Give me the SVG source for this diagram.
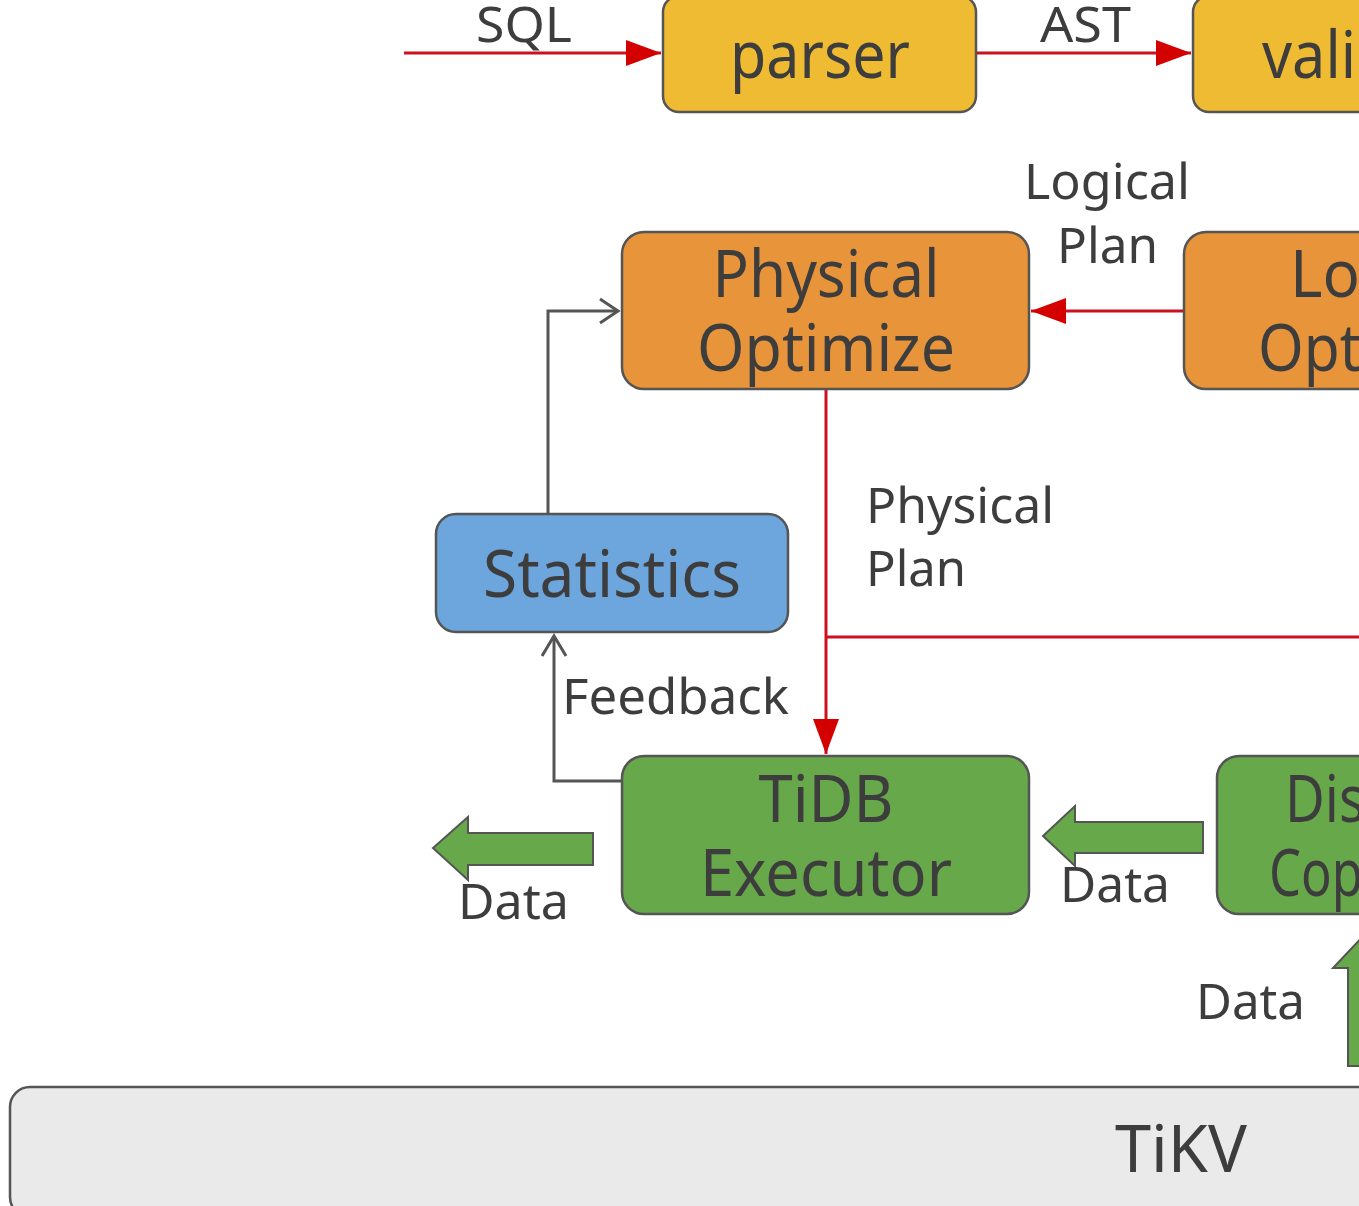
<svg xmlns="http://www.w3.org/2000/svg" width="1359" height="1206" viewBox="0 0 1359 1206">
<defs>
<style>
.node{stroke:#555;stroke-width:2.5}
.yellow{fill:#EFBB33}
.orange{fill:#E8943A}
.blue{fill:#6CA6DD}
.green{fill:#67A84A}
.grey{fill:#EAEAEA}
.nt{font-family:"Noto Sans","Open Sans",sans-serif;font-size:66px;fill:#3d3d3d;text-anchor:middle}
.lt{font-family:"Noto Sans","Open Sans",sans-serif;font-size:50px;fill:#3d3d3d}
.red{stroke:#CC1020;stroke-width:3;fill:none}
.gry{stroke:#555;stroke-width:3;fill:none}
.blk{fill:#67A84A;stroke:#555;stroke-width:2}
</style>
<marker id="ar" markerWidth="12" markerHeight="10" refX="12" refY="5" orient="auto" markerUnits="userSpaceOnUse" viewBox="0 0 12 10">
<path d="M0,0 L12,5 L0,10 z" fill="#D40000"/>
</marker>
<marker id="ag" viewBox="0 0 12 10" refX="11" refY="5" markerWidth="28" markerHeight="24" orient="auto" markerUnits="userSpaceOnUse">
<path d="M0,0 L11,5 L0,10" fill="none" stroke="#555" stroke-width="2"/>
</marker>
</defs>
<rect width="1359" height="1206" fill="#fff"/>
<g id="connectors">
<line x1="404" y1="53" x2="661" y2="53" class="red"/>
<path d="M626,40 L661,53 L626,66 z" fill="#D40000"/>
<line x1="976" y1="53" x2="1191" y2="53" class="red"/>
<path d="M1156,40 L1191,53 L1156,66 z" fill="#D40000"/>
<line x1="1184" y1="311" x2="1031" y2="311" class="red"/>
<path d="M1066,298 L1031,311 L1066,324 z" fill="#D40000"/>
<line x1="826" y1="389" x2="826" y2="754" class="red"/>
<path d="M813,719 L826,754 L839,719 z" fill="#D40000"/>
<line x1="826" y1="637" x2="1359" y2="637" class="red"/>
<path d="M548,514 L548,311 L618,311" class="gry"/>
<path d="M600,299 L618,311 L600,323" class="gry"/>
<path d="M622,781 L554,781 L554,636" class="gry"/>
<path d="M542,656 L554,636 L566,656" class="gry"/>
<path d="M593,833 L468,833 L468,817 L433,848 L468,880 L468,865 L593,865 z" class="blk"/>
<path d="M1203,822 L1075,822 L1075,806 L1043,836 L1075,866 L1075,853 L1203,853 z" class="blk"/>
<path d="M1348,1066 L1348,968 L1333,968 L1366,933 L1399,968 L1384,968 L1384,1066 z" class="blk"/>
<text class="lt" x="476" y="42" textLength="96" lengthAdjust="spacingAndGlyphs">SQL</text>
<text class="lt" x="1040" y="42" textLength="91" lengthAdjust="spacingAndGlyphs">AST</text>
<text class="lt" x="1024" y="199" textLength="166" lengthAdjust="spacingAndGlyphs">Logical</text>
<text class="lt" x="1057" y="263" textLength="101" lengthAdjust="spacingAndGlyphs">Plan</text>
<text class="lt" x="866" y="523" textLength="188" lengthAdjust="spacingAndGlyphs">Physical</text>
<text class="lt" x="866" y="586" textLength="100" lengthAdjust="spacingAndGlyphs">Plan</text>
<text class="lt" x="562" y="714" textLength="227" lengthAdjust="spacingAndGlyphs">Feedback</text>
<text class="lt" x="458" y="919" textLength="111" lengthAdjust="spacingAndGlyphs">Data</text>
<text class="lt" x="1060" y="902" textLength="110" lengthAdjust="spacingAndGlyphs">Data</text>
<text class="lt" x="1196" y="1019" textLength="109" lengthAdjust="spacingAndGlyphs">Data</text>
</g>
<g id="parser">
<rect x="663" y="-4" width="313" height="116" rx="16" class="node yellow"/>
<text class="nt" x="820" y="78" textLength="180" lengthAdjust="spacingAndGlyphs">parser</text>
</g>
<g id="validator">
<rect x="1193" y="-4" width="200" height="116" rx="16" class="node yellow"/>
<text class="nt" x="1262" y="78" style="text-anchor:start" textLength="94" lengthAdjust="spacingAndGlyphs">vali</text>
</g>
<g id="physical-optimize">
<rect x="622" y="232" width="407" height="157" rx="22" class="node orange"/>
<text class="nt" x="826" y="297" textLength="227" lengthAdjust="spacingAndGlyphs">Physical</text>
<text class="nt" x="826" y="371" textLength="258" lengthAdjust="spacingAndGlyphs">Optimize</text>
</g>
<g id="logical-optimize">
<rect x="1184" y="232" width="220" height="157" rx="22" class="node orange"/>
<text class="nt" x="1290" y="297" style="text-anchor:start" textLength="70" lengthAdjust="spacingAndGlyphs">Lo</text>
<text class="nt" x="1258" y="371" style="text-anchor:start" textLength="103" lengthAdjust="spacingAndGlyphs">Opt</text>
</g>
<g id="statistics">
<rect x="436" y="514" width="352" height="118" rx="20" class="node blue"/>
<text class="nt" x="612" y="597" textLength="258" lengthAdjust="spacingAndGlyphs">Statistics</text>
</g>
<g id="tidb-executor">
<rect x="622" y="756" width="407" height="158" rx="22" class="node green"/>
<text class="nt" x="826" y="822" textLength="135" lengthAdjust="spacingAndGlyphs">TiDB</text>
<text class="nt" x="826" y="896" textLength="252" lengthAdjust="spacingAndGlyphs">Executor</text>
</g>
<g id="dist">
<rect x="1217" y="756" width="200" height="158" rx="22" class="node green"/>
<text class="nt" x="1285" y="822" style="text-anchor:start" textLength="80" lengthAdjust="spacingAndGlyphs">Dis</text>
<text class="nt" x="1269" y="896" style="text-anchor:start" textLength="94" lengthAdjust="spacingAndGlyphs">Cop</text>
</g>
<g id="tikv">
<rect x="10" y="1087" width="1400" height="130" rx="20" class="node grey"/>
<text class="nt" x="1181" y="1172" textLength="132" lengthAdjust="spacingAndGlyphs">TiKV</text>
</g>
</svg>
